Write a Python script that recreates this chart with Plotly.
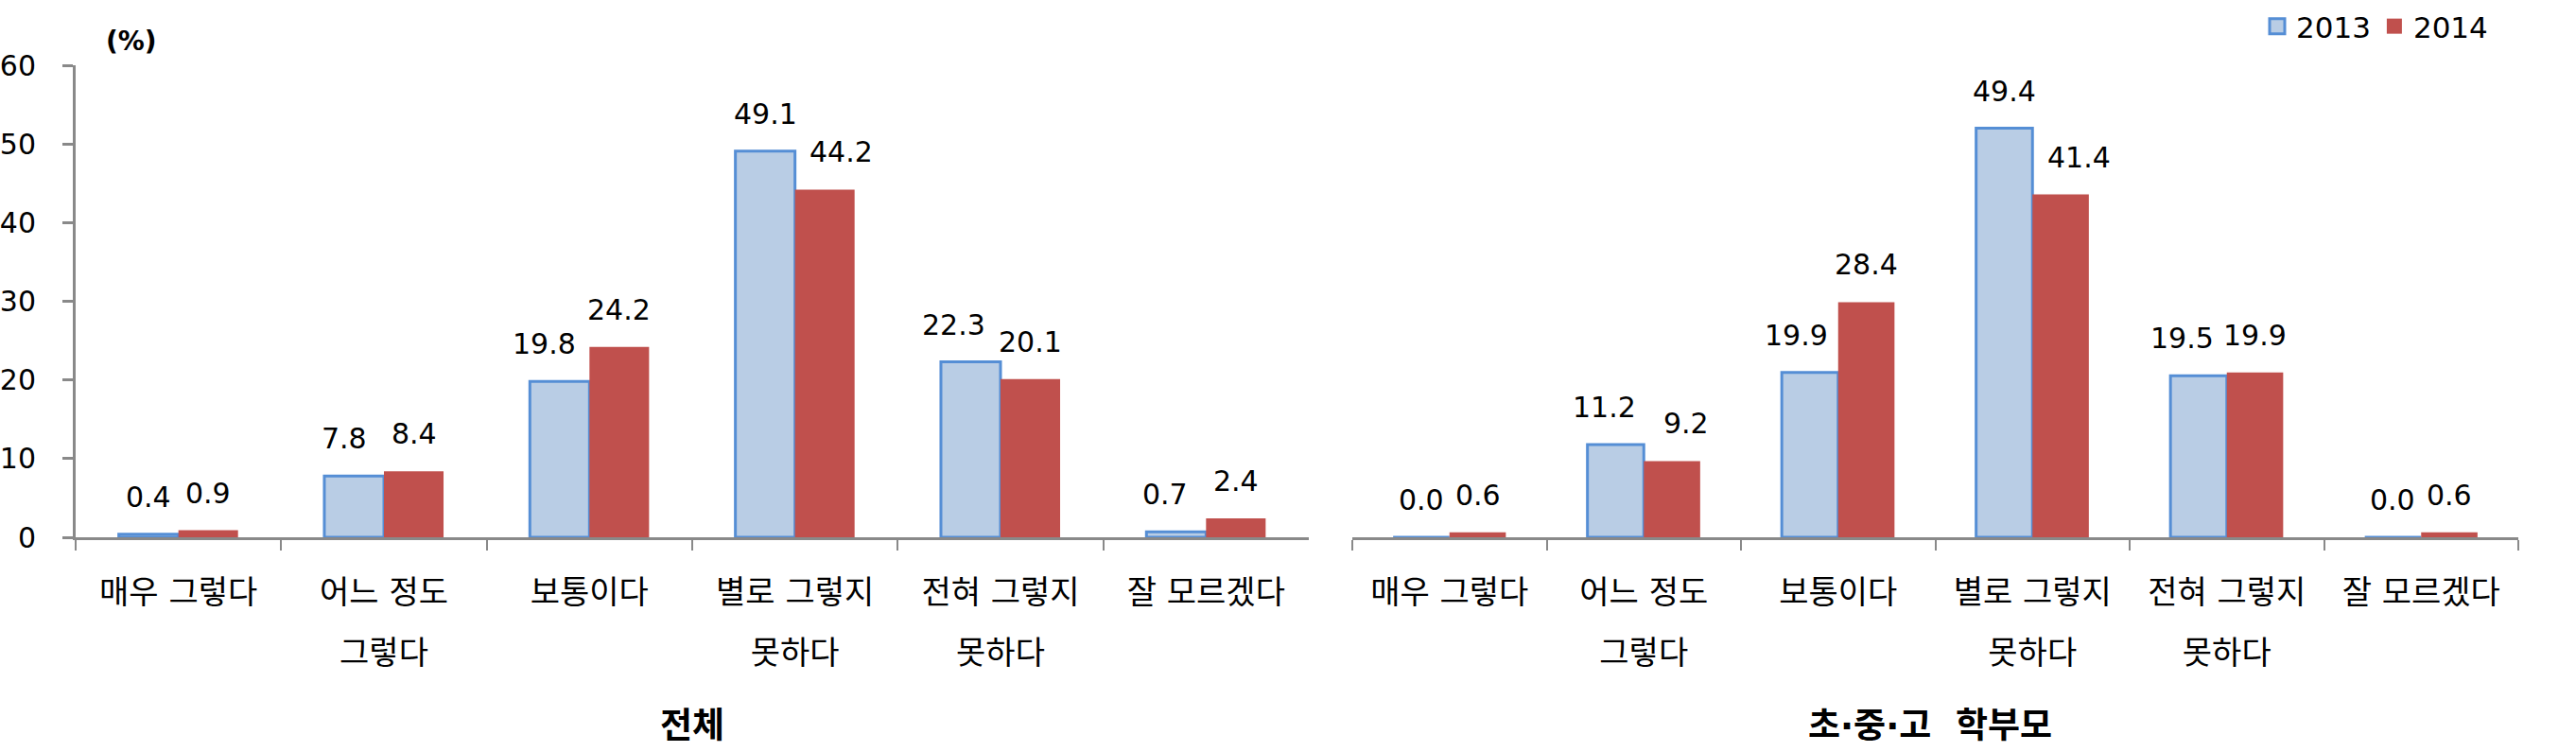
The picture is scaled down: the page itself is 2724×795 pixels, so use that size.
import plotly.graph_objects as go

categories = ["매우 그렇다", "어느 정도<br>그렇다", "보통이다", "별로 그렇지<br>못하다", "전혀 그렇지<br>못하다", "잘 모르겠다"]
series_names = ["2013", "2014"]
total_2013 = [0.4, 7.8, 19.8, 49.1, 22.3, 0.7]
total_2014 = [0.9, 8.4, 24.2, 44.2, 20.1, 2.4]
parents_2013 = [0.0, 11.2, 19.9, 49.4, 19.5, 0.0]
parents_2014 = [0.6, 9.2, 28.4, 41.4, 19.9, 0.6]
panel_titles = ["전체", "초·중·고  학부모"]
y_ticks = [0, 10, 20, 30, 40, 50, 60]

# horizontal nudges (px) of value labels, as placed in the original chart
nudge_total = ([0, -10, -16, 0, -18, -12], [0, 0, 0, 17, 0, 0])
nudge_parents = ([0, -12, -14, 0, -17, 0], [0, 15, 0, 19, 0, 0])

W, H = 2724, 795
NUM_FONT = "DejaVu Sans"
KR_FONT = "DejaVu Sans, Noto Sans CJK KR"
AXIS_COLOR = "#898989"
C2013_FILL = "#B9CDE5"
C2013_LINE = "#558ED5"
C2014 = "#C0504D"
BARGAP = 0.42
DOM1 = [80 / W, 1384 / W]
DOM2 = [1430 / W, 2663 / W]
YDOM = [(H - 568) / H, (H - 69) / H]

# tick labels: big base font gives the wide line spacing, inner span sets glyph size
ticktext = ["<br>".join(f"<span style='font-size:34px'>{part}</span>" for part in c.split("<br>"))
            for c in categories]

fig = go.Figure()
annotations = []

def add_pair(v13, v14, xa, ya, dom, nudges):
    colors = [(C2013_FILL, C2013_LINE, 3), (C2014, C2014, 0)]
    cat_px = (dom[1] - dom[0]) * W / len(categories)
    bar_px = cat_px * (1 - BARGAP) / 2
    for i, (vals, name) in enumerate(zip([v13, v14], series_names)):
        fill, line, lw = colors[i]
        fig.add_trace(go.Bar(
            x=categories, y=vals, name=name, xaxis=xa, yaxis=ya,
            marker=dict(color=fill, line=dict(color=line, width=lw)),
            showlegend=False, hoverinfo="x+y+name"))
        shift = (-0.5 if i == 0 else 0.5) * bar_px
        for c, v, n in zip(categories, vals, nudges[i]):
            annotations.append(dict(
                x=c, y=v, xref=xa, yref=ya, text=f"{v:.1f}", showarrow=False,
                xanchor="center", yanchor="bottom", xshift=shift + n, yshift=20,
                font=dict(family=NUM_FONT, size=30, color="black")))

add_pair(total_2013, total_2014, "x", "y", DOM1, nudge_total)
add_pair(parents_2013, parents_2014, "x2", "y2", DOM2, nudge_parents)

# legend entries (square swatches)
fig.add_trace(go.Scatter(x=[None], y=[None], mode="markers", name=series_names[0],
                         marker=dict(symbol="square", size=16, color=C2013_FILL,
                                     line=dict(color=C2013_LINE, width=3))))
fig.add_trace(go.Scatter(x=[None], y=[None], mode="markers", name=series_names[1],
                         marker=dict(symbol="square", size=16, color=C2014,
                                     line=dict(color=C2014, width=0))))

xcommon = dict(showline=True, linecolor=AXIS_COLOR, linewidth=3,
               ticks="outside", tickson="boundaries", ticklen=11, tickwidth=2,
               tickcolor=AXIS_COLOR, showgrid=False, zeroline=False,
               tickmode="array", tickvals=categories, ticktext=ticktext,
               tickfont=dict(family=KR_FONT, size=49, color="black"),
               ticklabelstandoff=8, fixedrange=True)

annotations += [
    dict(text="<b>(%)</b>", x=110 / W, y=(H - 44) / H, xref="paper", yref="paper",
         xanchor="left", yanchor="middle", showarrow=False,
         font=dict(family=NUM_FONT, size=28, color="black")),
    dict(text=f"<b>{panel_titles[0]}</b>", x=sum(DOM1) / 2, y=(H - 767) / H,
         xref="paper", yref="paper", xanchor="center", yanchor="middle",
         showarrow=False, font=dict(family=KR_FONT, size=37, color="black")),
    dict(text=f"<b>{panel_titles[1]}</b>", x=2041 / W, y=(H - 767) / H,
         xref="paper", yref="paper", xanchor="center", yanchor="middle",
         showarrow=False, font=dict(family=KR_FONT, size=37, color="black")),
]

fig.update_layout(
    width=W, height=H,
    margin=dict(l=0, r=0, t=0, b=0, autoexpand=False),
    paper_bgcolor="white", plot_bgcolor="white",
    barmode="group", bargap=BARGAP, bargroupgap=0,
    font=dict(family=KR_FONT, size=30, color="black"),
    xaxis=dict(domain=DOM1, anchor="y", **xcommon),
    xaxis2=dict(domain=DOM2, anchor="y2", **xcommon),
    yaxis=dict(domain=YDOM, anchor="x", range=[0, 60],
               tickvals=y_ticks, ticks="outside", ticklen=11, tickwidth=3,
               tickcolor=AXIS_COLOR, showline=True, linecolor=AXIS_COLOR,
               linewidth=3, showgrid=False, zeroline=False, ticklabelstandoff=22,
               tickfont=dict(family=NUM_FONT, size=30, color="black")),
    yaxis2=dict(domain=YDOM, anchor="x2", range=[0, 57],
                visible=False, showgrid=False, zeroline=False),
    legend=dict(orientation="h", x=2636 / W, xanchor="right", y=(H - 28) / H,
                yanchor="middle", font=dict(family=NUM_FONT, size=31, color="black"),
                bgcolor="rgba(0,0,0,0)", traceorder="normal", itemwidth=30),
    annotations=annotations,
)

fig.write_html("out.html", config={"displayModeBar": False},
               post_script="document.body.style.margin='0px';document.body.style.overflow='hidden';")
